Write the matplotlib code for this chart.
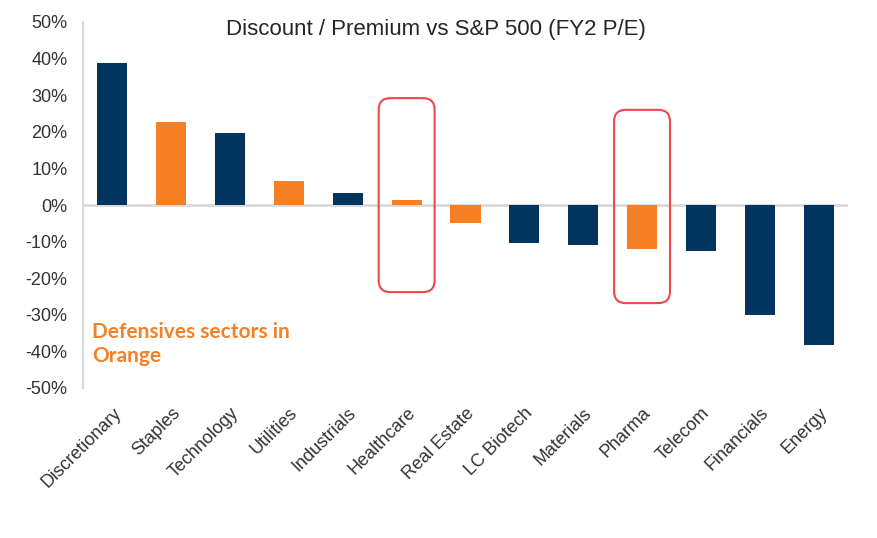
import matplotlib
matplotlib.use("Agg")
import matplotlib.pyplot as plt
from matplotlib.patches import FancyBboxPatch
from matplotlib.ticker import FuncFormatter

plt.rcParams["font.family"] = ["Liberation Sans", "DejaVu Sans"]

categories = ["Discretionary", "Staples", "Technology", "Utilities", "Industrials",
              "Healthcare", "Real Estate", "LC Biotech", "Materials", "Pharma",
              "Telecom", "Financials", "Energy"]
values = [38.8, 22.8, 19.7, 6.5, 3.2, 1.5, -4.9, -10.4, -10.9, -12.0, -12.6, -30.0, -38.3]
defensive = [False, True, False, True, False, True, True, False, False, True, False, False, False]
highlighted = ["Healthcare", "Pharma"]
yticks = list(range(-50, 51, 10))

NAVY = "#01355F"
ORANGE = "#F58025"
RED = "#F0464C"

fig = plt.figure(figsize=(8.77, 5.38), dpi=100)
ax = fig.add_axes([83/877, 1-388/538, 765/877, 366/538])

colors = [ORANGE if d else NAVY for d in defensive]
x = list(range(len(categories)))
ax.bar(x, values, width=0.51, color=colors, zorder=2)

ax.set_xlim(-0.5, len(categories) - 0.5)
ax.set_ylim(-50, 50)
ax.set_yticks(yticks)
ax.yaxis.set_major_formatter(FuncFormatter(lambda v, p: f"{int(v)}%"))
ax.tick_params(axis="y", length=0, pad=11, labelsize=13, labelcolor="#333333")
ax.set_xticks(x)
ax.set_xticklabels(categories, rotation=45, ha="right", rotation_mode="anchor",
                   fontsize=13, color="#333333")
ax.tick_params(axis="x", length=0, pad=12)

for s in ["top", "right", "bottom"]:
    ax.spines[s].set_visible(False)
ax.spines["left"].set_color("#D9D9D9")
ax.spines["left"].set_linewidth(1.5)
ax.axhline(0, color="#D9D9D9", linewidth=2, zorder=1)

# red rounded highlight boxes
box_ranges = {"Healthcare": (-23.8, 29.2), "Pharma": (-26.8, 26.0)}
for name in highlighted:
    i = categories.index(name)
    lo, hi = box_ranges[name]
    w = 0.95
    p = FancyBboxPatch((i - w/2, lo), w, hi - lo,
                       boxstyle="round,pad=0,rounding_size=0.2",
                       mutation_aspect=16, fill=False, edgecolor=RED,
                       linewidth=1.5, zorder=3)
    ax.add_patch(p)

fig.text(436/877, 1-30/538, "Discount / Premium vs S&P 500 (FY2 P/E)",
         ha="center", va="center", fontsize=16, color="#262626")

ax.text(0.012, 0.12, "Defensives sectors in\nOrange", transform=ax.transAxes,
        ha="left", va="center", fontsize=15, fontweight="bold", color=ORANGE,
        family="Lato", linespacing=1.3)

fig.savefig("out.png", dpi=100)
